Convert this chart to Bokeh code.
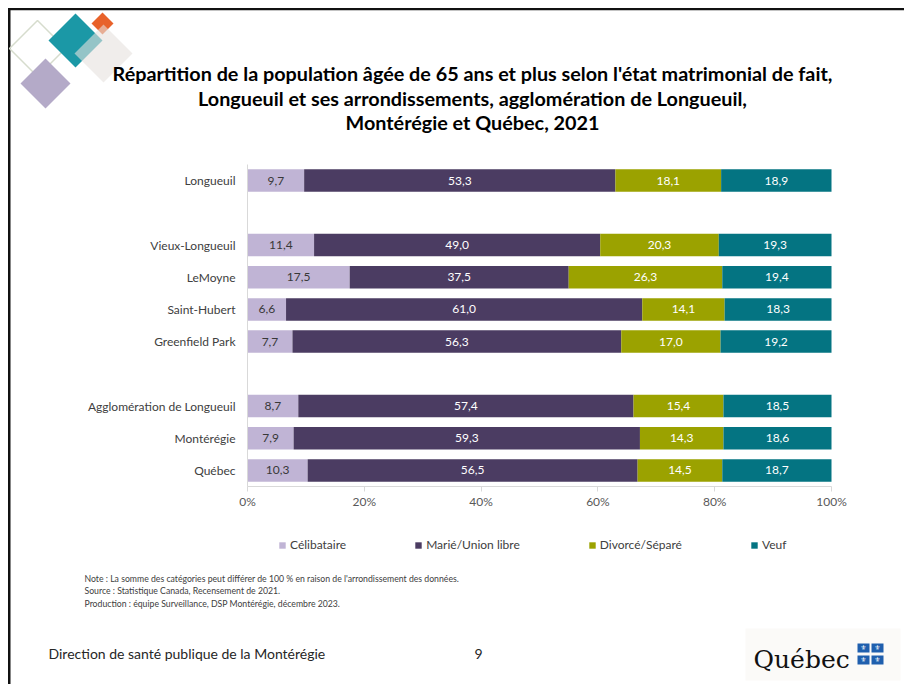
import numpy as np
from bokeh.plotting import figure
from bokeh.models import (Range1d, ColumnDataSource, Legend, LegendItem, FixedTicker, LinearAxis)
from bokeh.core.properties import value
from bokeh.embed import file_html
from bokeh.resources import INLINE

# ---------------- data ----------------
categories = ["Longueuil", "Vieux-Longueuil", "LeMoyne", "Saint-Hubert", "Greenfield Park",
              "Agglomération de Longueuil", "Montérégie", "Québec"]
group_sizes = [1, 4, 3]
celibataire = [9.7, 11.4, 17.5, 6.6, 7.7, 8.7, 7.9, 10.3]
marie_union = [53.3, 49.0, 37.5, 61.0, 56.3, 57.4, 59.3, 56.5]
divorce_separe = [18.1, 20.3, 26.3, 14.1, 17.0, 15.4, 14.3, 14.5]
veuf = [18.9, 19.3, 19.4, 18.3, 19.2, 18.5, 18.6, 18.7]
series_labels = ["Célibataire", "Marié/Union libre", "Divorcé/Séparé", "Veuf"]
x_ticks = [0, 20, 40, 60, 80, 100]
x_tick_labels = ["0%", "20%", "40%", "60%", "80%", "100%"]
title_lines = ["Répartition de la population âgée de 65 ans et plus selon l'état matrimonial de fait,",
               "Longueuil et ses arrondissements, agglomération de Longueuil,",
               "Montérégie et Québec, 2021"]
note_lines = ["Note : La somme des catégories peut différer de 100 % en raison de l'arrondissement des données.",
              "Source : Statistique Canada, Recensement de 2021.",
              "Production : équipe Surveillance, DSP Montérégie, décembre 2023."]
footer_text = "Direction de santé publique de la Montérégie"
page_number = "9"
logo_text = "Québec"

# ---------------- style / geometry (canvas pixels) ----------------
colors = ["#c0b4d5", "#4b3c62", "#9ba200", "#047482"]
label_colors = ["#383838", "#ffffff", "#ffffff", "#ffffff"]
FONT = "Lato"
W, H = 904, 684
X0, PCT_PX = 247, 5.84          # x pixel of 0 %, pixels per percent
Y_TOP, SLOT_PX = 164, 32.2      # pixel top of the first row slot, pixels per row slot

# row slots (top to bottom), with a blank slot between groups
slots = []
i = 0
for g, n in enumerate(group_sizes):
    if g > 0:
        slots.append(None)
    slots.extend(categories[i:i + n])
    i += n
slot_of = {c: k for k, c in enumerate(slots) if c is not None}
cat_pos = [slot_of[c] for c in categories]
n_slots = len(slots)

p = figure(width=W, height=H, x_range=Range1d(0, W), y_range=Range1d(H, 0),
           output_backend="svg", toolbar_location=None, min_border=0,
           x_axis_location=None, y_axis_location=None)
p.grid.visible = False
p.outline_line_color = None
p.background_fill_color = "white"
p.border_fill_color = "white"
p.extra_x_ranges = {"pct": Range1d(-X0 / PCT_PX, (W - X0) / PCT_PX)}
p.extra_y_ranges = {"rows": Range1d((H - Y_TOP) / SLOT_PX - 0.5, -Y_TOP / SLOT_PX - 0.5)}

# ---------------- slide decorations (pixel coordinates) ----------------
p.quad(left=[7.5], right=[10], top=[7.5], bottom=[H], fill_color="#111111", line_color=None)
p.quad(left=[7.5], right=[W], top=[7.5], bottom=[9.8], fill_color="#111111", line_color=None)


def diamond(cx, cy, hd):
    return [cx - hd, cx, cx + hd, cx], [cy, cy - hd, cy, cy + hd]


xs, ys = diamond(37, 48, 28)
p.patch(xs, ys, fill_alpha=0, line_color="#d6dccd", line_width=1.5)
xs, ys = diamond(45, 83, 25)
p.patch(xs, ys, fill_color="#b4aac8", line_color=None)
xs, ys = diamond(75, 40, 27)
p.patch(xs, ys, fill_color="#1b98a6", line_color=None)
xs, ys = diamond(102, 23, 11)
p.patch(xs, ys, fill_color="#e8622a", line_color=None)
xs, ys = diamond(103, 53, 29)
p.patch(xs, ys, fill_color="#e6e1de", fill_alpha=0.6, line_color=None)

p.text(x=[472] * 3, y=[72, 97, 121], text=title_lines,
       text_font=value(FONT), text_font_style="bold", text_font_size="19.8px",
       text_align="center", text_baseline="middle", text_color="#000000")

p.text(x=[84] * 3, y=[578, 590, 603], text=note_lines, text_font=value(FONT),
       text_font_size="8.7px", text_color="#404040", text_align="left", text_baseline="middle")
p.text(x=[48], y=[653], text=[footer_text], text_font=value(FONT), text_font_size="14px",
       text_color="#262626", text_align="left", text_baseline="middle")
p.text(x=[478], y=[653], text=[page_number], text_font=value(FONT), text_font_size="14px",
       text_color="#262626", text_align="center", text_baseline="middle")

p.quad(left=[745], right=[900], top=[628], bottom=[680], fill_color="#fbfaf8", line_color=None)
p.text(x=[753], y=[659], text=[logo_text], text_font=value("DejaVu Serif"),
       text_font_size="25px", text_color="#111111", text_align="left", text_baseline="alphabetic")
fx = [863, 877, 863, 877]
fy = [647.5, 647.5, 659.5, 659.5]
p.rect(x=fx, y=fy, width=12, height=9, fill_color="#1f5fae", line_color=None)
p.text(x=fx, y=fy, text=["⚜"] * 4, text_font=value("DejaVu Sans"), text_font_size="7px",
       text_color="white", text_align="center", text_baseline="middle")

# ---------------- chart (stacked bars, clipped at the 100 % axis end) ----------------
series = [celibataire, marie_union, divorce_separe, veuf]
x_max = x_ticks[-1]
cum = np.zeros(len(categories))
rs = []
lx, ly, lt, lc = [], [], [], []
for vals, col, tcol, name in zip(series, colors, label_colors, series_labels):
    v = np.array(vals)
    left = np.minimum(cum, x_max)
    right = np.minimum(cum + v, x_max)
    src = ColumnDataSource(dict(row=cat_pos, left=left, right=right))
    r = p.hbar(y="row", left="left", right="right", height=0.7, fill_color=col, line_color=None,
               source=src, x_range_name="pct", y_range_name="rows")
    rs.append(r)
    lx += list((left + right) / 2)
    ly += cat_pos
    lt += [f"{x:.1f}".replace(".", ",") for x in v]
    lc += [tcol] * len(v)
    cum = cum + v
p.text(x=lx, y=ly, text=lt, text_color=lc, text_font=value(FONT), text_font_size="12px",
       text_align="center", text_baseline="middle", x_range_name="pct", y_range_name="rows")

xa = LinearAxis(x_range_name="pct", y_range_name="rows", fixed_location=n_slots - 0.5,
                bounds=(x_ticks[0], x_ticks[-1]), ticker=FixedTicker(ticks=x_ticks),
                major_label_overrides={t: l for t, l in zip(x_ticks, x_tick_labels)},
                axis_line_color="#d9d9d9", major_tick_line_color="#d9d9d9",
                major_tick_out=5, major_tick_in=0, minor_tick_line_color=None,
                major_label_standoff=2, major_label_text_font=FONT,
                major_label_text_font_size="12px", major_label_text_color="#595959")
p.add_layout(xa, "below")

ya = LinearAxis(x_range_name="pct", y_range_name="rows", fixed_location=0,
                bounds=(-0.5, n_slots - 0.5), ticker=FixedTicker(ticks=cat_pos),
                major_label_overrides={k: c for k, c in zip(cat_pos, categories)},
                axis_line_color="#d9d9d9", major_tick_line_color=None,
                minor_tick_line_color=None, major_label_standoff=6,
                major_label_text_font=FONT, major_label_text_font_size="12px",
                major_label_text_color="#404040")
p.add_layout(ya, "left")

legend = Legend(items=[LegendItem(label=l, renderers=[r]) for l, r in zip(series_labels, rs)],
                orientation="horizontal", location=(278, H - 552),
                label_text_font=FONT, label_text_font_size="12px", label_text_color="#404040",
                glyph_width=8, glyph_height=8, label_standoff=4, spacing=68,
                border_line_color=None, background_fill_alpha=0, margin=0, padding=7)
p.add_layout(legend)

open("out.html", "w").write(file_html(p, INLINE))
